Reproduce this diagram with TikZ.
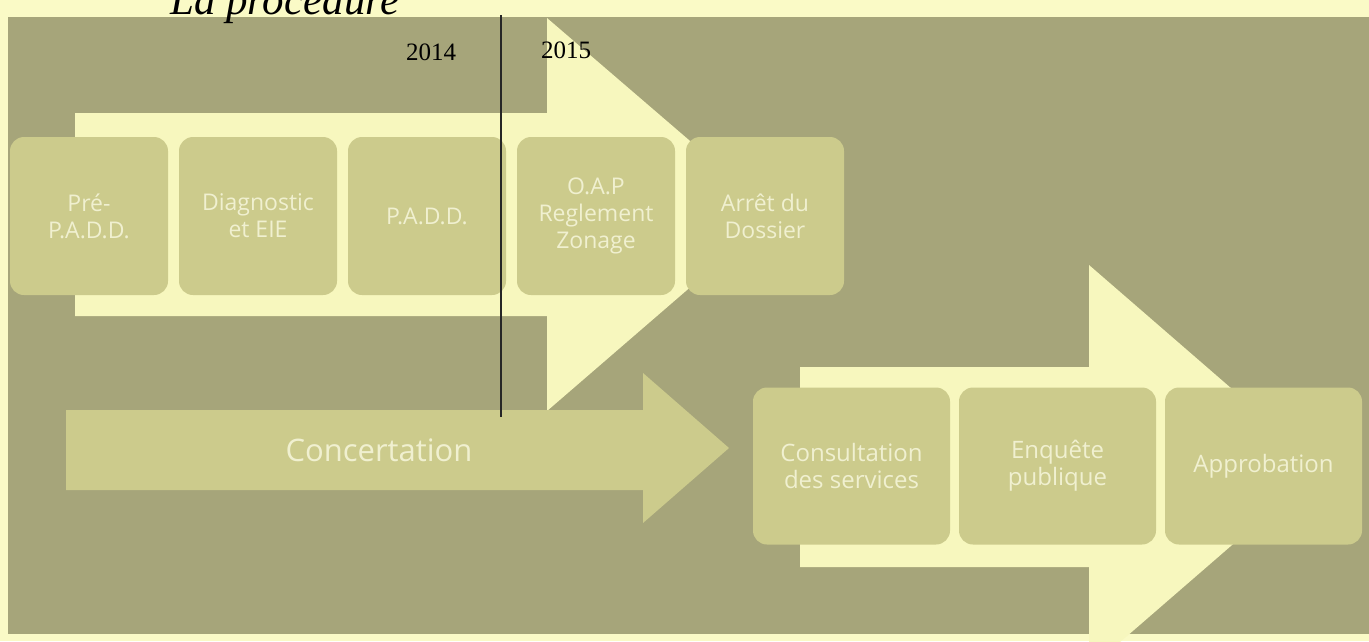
\documentclass[tikz,border=0pt]{standalone}
\usepackage{fontspec}
\setmainfont{Liberation Serif}
\newfontfamily\boxfont{Open Sans}
\usetikzlibrary{positioning}

\definecolor{pagebg}{RGB}{250,250,198}
\definecolor{olivebg}{RGB}{166,165,122}
\definecolor{flowyel}{RGB}{247,247,190}
\definecolor{boxfill}{RGB}{204,203,140}
\definecolor{boxtext}{RGB}{240,240,208}

\begin{document}
\begin{tikzpicture}[x=1pt,y=-1pt,etape/.style={fill=boxfill,rounded corners=14pt,minimum width=158pt,minimum height=158pt,inner sep=2pt,node distance=11pt,outer sep=0pt,text=boxtext,align=center,font=\boxfont\fontsize{23}{27}\selectfont},etapebis/.style={etape,minimum width=197pt,minimum height=157pt,node distance=9pt,font=\boxfont\fontsize{24}{27}\selectfont},annee/.style={inner sep=0pt,anchor=base,font=\fontsize{25}{25}\selectfont}]
    \useasboundingbox (0,0) rectangle (1369,641);
    \fill[pagebg] (0,0) rectangle (1369,641);
    \fill[olivebg] (8,17) rectangle (1369,634);
    %
    \node[inner sep=0pt,anchor=base west,font=\fontsize{43}{43}\selectfont\itshape](titre) at (170,14){La procédure};
    %
    \fill[flowyel] (75,113) -- (547,113) -- (547,18) -- (775,214) -- (547,411) -- (547,316) -- (75,316) -- cycle;
    \fill[flowyel] (800,367) -- (1089,367) -- (1089,265) -- (1322,467) -- (1089,669) -- (1089,567) -- (800,567) -- cycle;
    \fill[boxfill] (66,410) -- (643,410) -- (643,373) -- (729,448) -- (643,523) -- (643,490) -- (66,490) -- cycle;
    \node[text=boxtext,font=\boxfont\fontsize{31}{31}\selectfont](conc) at (379,450){Concertation};
    %
    \node[etape](pre) at (89,216){Pré-\\P.A.D.D.};
    \node[etape,right=of pre](diag){Diagnostic\\et EIE};
    \node[etape,right=of diag](padd){P.A.D.D.};
    \node[etape,right=of padd](oap){O.A.P\\Reglement\\Zonage};
    \node[etape,right=of oap](arret){Arrêt du\\Dossier};
    %
    \node[etapebis](cons) at (851.5,466){Consultation\\des services};
    \node[etapebis,right=of cons](enq){Enquête\\publique};
    \node[etapebis,right=of enq](appro){Approbation};
    %
    \coordinate (haut) at (501,15);
    \coordinate (bas) at (501,417);
    \draw[line width=1.2pt,black!85] (haut) -- (bas);
    \node[annee](an14) at (431,60){2014};
    \node[annee](an15) at (566,58){2015};
\end{tikzpicture}
\end{document}
